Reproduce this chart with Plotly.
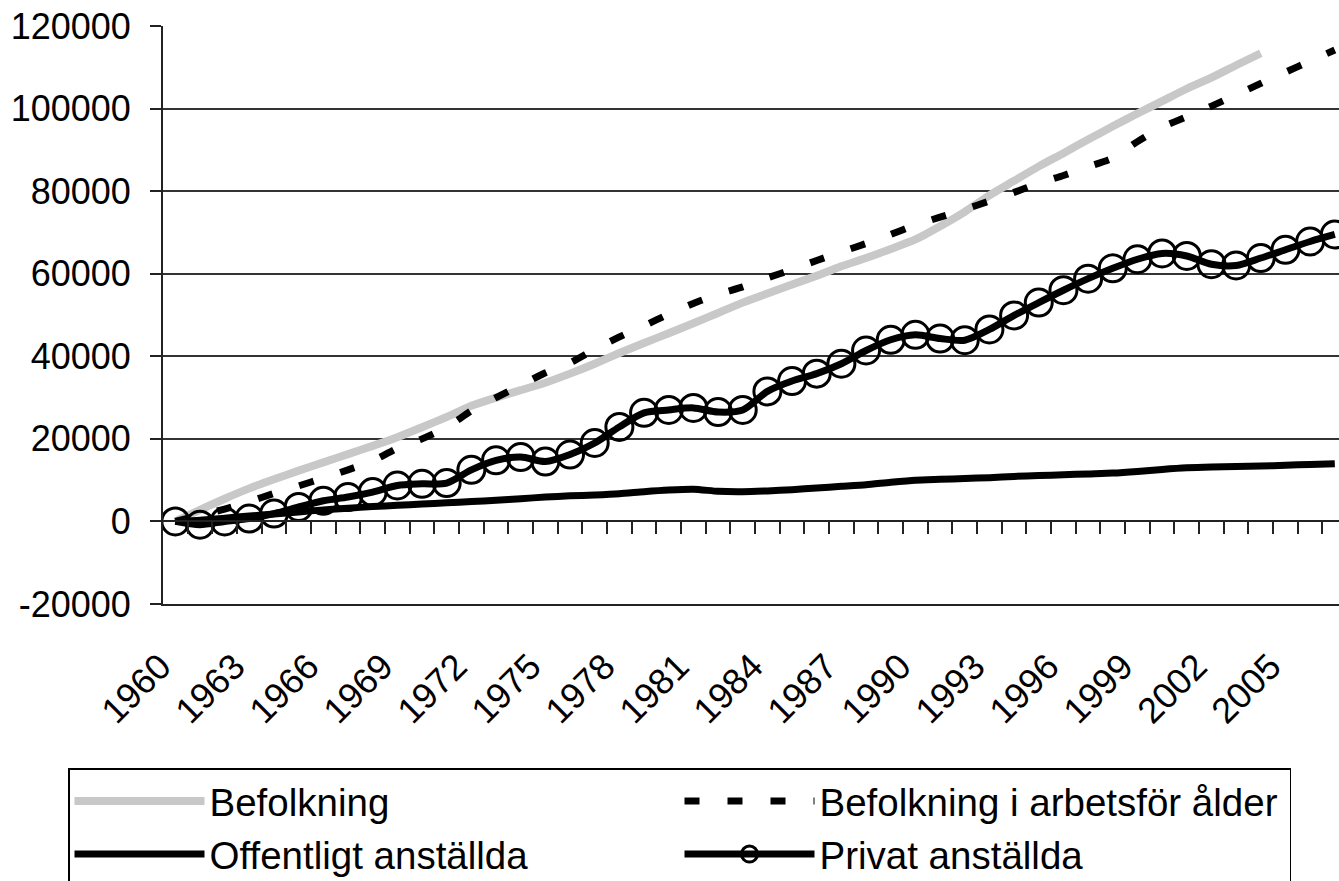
import plotly.graph_objects as go

years = list(range(1960, 2008))

befolkning = [0, 2800, 5500, 8000, 10200, 12300, 14300, 16300, 18300, 20400,
              22800, 25300, 28000, 30000, 31800, 33600, 35800, 38200, 40800, 43200,
              45600, 48000, 50500, 53000, 55200, 57400, 59500, 61800, 63800, 66000,
              68300, 71500, 75000, 79000, 82500, 86000, 89200, 92500, 95700, 98800,
              101800, 104800, 107500, 110500, 113400, None, None, None]

arbetsfor = [0, 1500, 3000, 4800, 6800, 8600, 10500, 12500, 14700, 17700,
             20000, 22800, 26800, 30000, 33000, 36000, 38400, 41700, 44700, 47400,
             50200, 52800, 55000, 56800, 59000, 61000, 63200, 65300, 67300, 69500,
             71800, 73700, 75600, 77600, 79700, 81900, 83800, 85900, 88000, 92000,
             95500, 98000, 100600, 103300, 106100, 108800, 111500, 114200]

offentligt = [0, 300, 800, 1300, 1800, 2300, 2800, 3200, 3600, 3900,
              4200, 4500, 4800, 5100, 5500, 5900, 6200, 6400, 6700, 7200,
              7600, 7800, 7300, 7200, 7400, 7700, 8100, 8500, 8900, 9500,
              10000, 10200, 10400, 10600, 10900, 11100, 11300, 11500, 11700, 12100,
              12600, 13000, 13200, 13300, 13400, 13600, 13800, 14000]

privat = [0, -800, 0, 700, 1900, 3500, 5000, 5900, 7100, 8700,
          9100, 9300, 12500, 14800, 15600, 14500, 16200, 19000, 22900, 26300,
          27000, 27500, 26500, 27000, 31500, 34000, 35800, 38200, 41400, 44000,
          45200, 44300, 43900, 46500, 49900, 53000, 56000, 58800, 61300, 63500,
          64900, 64300, 62300, 62000, 63800, 65800, 67800, 69500]

series_names = ["Befolkning", "Befolkning i arbetsför ålder",
                "Offentligt anställda", "Privat anställda"]

y_ticks = [-20000, 0, 20000, 40000, 60000, 80000, 100000, 120000]
x_tick_years = list(range(1960, 2006, 3))
boundary_ticks = [y - 0.5 for y in range(1961, 2008)]
x_range = [1959.5, 2007.17]

FONT = "Liberation Sans, Arial, sans-serif"

fig = go.Figure()
fig.add_trace(go.Scatter(x=years, y=befolkning, name=series_names[0], mode="lines",
                         line=dict(color="#c8c8c8", width=8, shape="spline", smoothing=0.6)))
fig.add_trace(go.Scatter(x=years, y=arbetsfor, name=series_names[1], mode="lines",
                         line=dict(color="black", width=7, dash="15px,28px", shape="spline", smoothing=0.6)))
fig.add_trace(go.Scatter(x=years, y=offentligt, name=series_names[2], mode="lines",
                         line=dict(color="black", width=7, shape="spline", smoothing=0.6)))
fig.add_trace(go.Scatter(x=years, y=privat, name=series_names[3], mode="lines+markers",
                         line=dict(color="black", width=7, shape="spline", smoothing=0.8),
                         marker=dict(symbol="circle-open", size=27, color="black",
                                     line=dict(color="black", width=3))))
# empty helper trace so the category-boundary axis at y=0 is drawn
fig.add_trace(go.Scatter(x=[], y=[], xaxis="x2", showlegend=False, hoverinfo="skip"))

fig.update_layout(
    width=1339, height=881,
    margin=dict(l=163, r=0, t=26, b=277, autoexpand=False),
    plot_bgcolor="white", paper_bgcolor="white",
    font=dict(family=FONT, size=36, color="black"),
    showlegend=True,
    legend=dict(
        orientation="h", xref="paper", yref="paper",
        x=(68 - 163) / 1176, y=(604 - 768) / 578, xanchor="left", yanchor="top",
        bordercolor="black", borderwidth=1.5, bgcolor="white",
        font=dict(family=FONT, size=38.5, color="black"),
        itemwidth=130, entrywidth=465, entrywidthmode="pixels",
        itemsizing="trace", traceorder="normal",
    ),
    xaxis=dict(
        range=x_range, tickmode="array", tickvals=x_tick_years,
        ticktext=[str(y) for y in x_tick_years], tickangle=-45,
        showgrid=False, zeroline=False, showline=True, linecolor="#222", linewidth=2,
        ticks="", tickfont=dict(size=36), ticklabelstandoff=25, ticklabelshift=-15,
    ),
    xaxis2=dict(
        overlaying="x", anchor="free", position=1 / 7, side="bottom",
        range=x_range, tickmode="array", tickvals=boundary_ticks,
        showticklabels=False, ticks="outside", ticklen=12, tickcolor="#222", tickwidth=2,
        showgrid=False, zeroline=False, showline=True, linecolor="#222", linewidth=2,
    ),
    yaxis=dict(
        range=[-20000, 120000], tickmode="array", tickvals=y_ticks,
        ticktext=[str(v) for v in y_ticks],
        showgrid=True, gridcolor="#333", gridwidth=1.5, zeroline=False,
        showline=True, linecolor="#222", linewidth=2,
        ticks="outside", ticklen=11, tickcolor="#222", tickwidth=1.5,
        ticklabelstandoff=12, tickfont=dict(size=36),
    ),
)

fig.write_html("out.html", config={"displayModeBar": False},
               post_script="document.body.style.margin='0';")
